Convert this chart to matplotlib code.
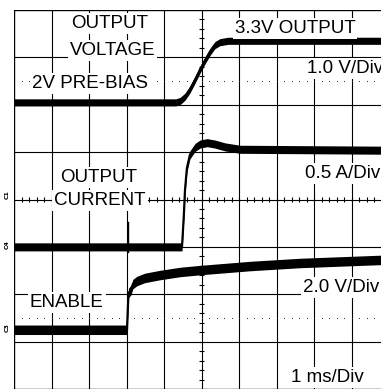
import matplotlib
matplotlib.use("Agg")
import matplotlib.pyplot as plt
import numpy as np

# time axis, 1 ms per division, 10 divisions
t_span = 10.0

# output voltage (V), 1.0 V/div
v_time = [0.0, 4.32, 4.43, 4.56, 4.69, 4.83, 4.96, 5.09, 5.23, 5.36, 5.49, 5.71, 10.0]
v_out = [2.0, 2.0, 2.03, 2.12, 2.27, 2.48, 2.69, 2.88, 3.07, 3.21, 3.27, 3.3, 3.3]

# output current (A), 0.5 A/div
i_time = [0.0, 4.48, 4.53, 4.56, 4.61, 4.69, 4.83, 4.96, 5.15, 5.36, 5.63, 6.03, 10.0]
i_out = [0.0, 0.0, 0.34, 0.60, 0.83, 0.97, 1.05, 1.085, 1.10, 1.085, 1.055, 1.03, 1.02]
i_glitch_t = 3.04
i_glitch = (-0.05, 0.26)

# enable pin (V), 2.0 V/div
en_time = [0.0, 3.013, 3.053, 3.12, 3.17, 3.28, 3.49, 3.89, 4.43, 4.96, 6.29, 7.63, 9.79, 10.0]
en_volt = [0.0, 0.0, 1.55, 1.68, 1.93, 2.06, 2.19, 2.31, 2.44, 2.52, 2.69, 2.82, 2.95, 2.96]

# channel settings: (units per division, ground position in divisions)
ch_v = (1.0, 4.05)
ch_i = (0.5, 3.0)
ch_en = (2.0, 1.25)


def to_div(vals, ch):
    per_div, gnd = ch
    return gnd + np.asarray(vals) / per_div


fig = plt.figure(figsize=(3.81, 3.90), dpi=100)
ax = fig.add_axes([14 / 381, 1 / 390, 375 / 381, 379 / 390])
ax.set_xlim(0, t_span)
ax.set_ylim(0, 8)
ax.axis("off")

# graticule
for gx in range(1, 10):
    ax.axvline(gx, color="black", lw=0.8, zorder=1)
for gy in range(1, 8):
    ax.axhline(gy, color="black", lw=0.8, zorder=1)

# minor ticks on the centre lines
tx = np.arange(0.2, 10, 0.2)
ty = np.arange(0.2, 8, 0.2)
ax.vlines(tx, 4 - 0.06, 4 + 0.06, color="black", lw=0.8, zorder=1)
ax.hlines(ty, 5 - 0.07, 5 + 0.07, color="black", lw=0.8, zorder=1)

# dotted reference rows
dots = np.arange(0.2, 10, 0.2)
for ry in (6.5, 1.5):
    ax.plot(dots, np.full_like(dots, ry), ls="none", marker="s", ms=0.7,
            mew=0, color="#333333", zorder=1)

# outer frame
ax.axhline(0, color="black", lw=1.0, zorder=6)
ax.axhline(8, color="black", lw=1.0, zorder=6)
ax.axvline(0, color="black", lw=1.0, zorder=6)


def trace(t, y, half):
    ax.fill_between(t, y - half, y + half, color="black", lw=0, zorder=3)
    ax.plot(t, y, color="black", lw=1.6, zorder=3)


trace(v_time, to_div(v_out, ch_v), 0.075)
trace(i_time, to_div(i_out, ch_i), 0.085)
ax.plot([i_glitch_t, i_glitch_t], to_div(i_glitch, ch_i), color="black",
        lw=1.0, zorder=3)
trace(en_time, to_div(en_volt, ch_en), 0.1)

# channel ground markers
for ch, name in ((ch_v, "C1"), (ch_i, "C4"), (ch_en, "C3")):
    ax.text(-0.19, ch[1] + 0.05, name, rotation=90, fontsize=4.5,
            fontweight="bold", ha="center", va="center", clip_on=False)

font = dict(family="Liberation Sans", fontsize=13.5, color="black", zorder=4,
            va="baseline",
            bbox=dict(facecolor="white", edgecolor="none", pad=1.5))

ax.text(2.56, 7.62, "OUTPUT", ha="center", **font)
ax.text(2.627, 7.05, "VOLTAGE", ha="center", **font)
ax.text(2.027, 6.354, "2V PRE-BIAS", ha="center", **font)
ax.text(7.493, 7.515, "3.3V OUTPUT", ha="center", **font)
ax.text(7.813, 6.67, "1.0 V/Div", ha="left", **font)
ax.text(2.253, 4.376, "OUTPUT", ha="center", **font)
ax.text(2.293, 3.884, "CURRENT", ha="center", **font)
ax.text(7.76, 4.447, "0.5 A/Div", ha="left", **font)
ax.text(1.40, 1.737, "ENABLE", ha="center", **font)
ax.text(7.707, 2.054, "2.0 V/Div", ha="left", **font)
ax.text(8.36, 0.154, "1 ms/Div", ha="center", **font)

fig.savefig("out.png", dpi=100)
